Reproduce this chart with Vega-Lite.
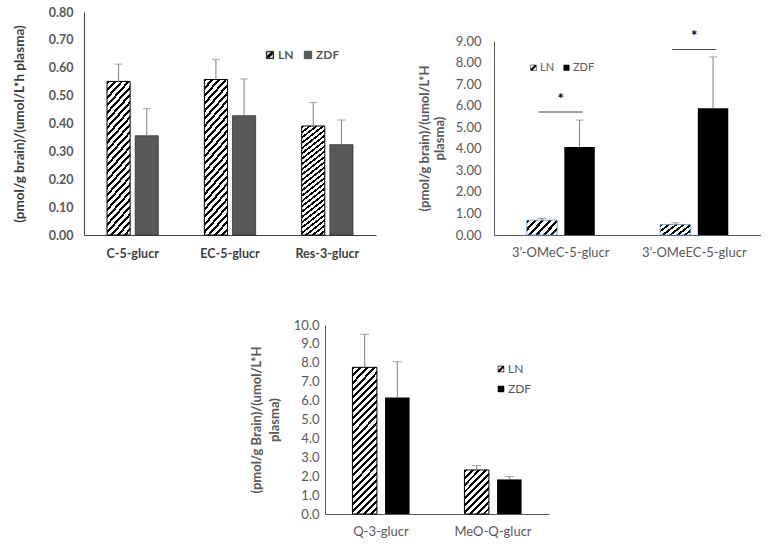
{
  "$schema": "https://vega.github.io/schema/vega-lite/v6.json",
  "padding": {"left": 12, "top": 6, "right": 0, "bottom": 0},
  "config": {
    "view": {"stroke": null},
    "font": "Lato",
    "axis": {"grid": false, "ticks": false, "domainColor": "#595959", "labelFont": "Lato", "titleFont": "Lato", "labelOverlap": false},
    "legend": {"labelFont": "Lato"}
  },
  "datasets": {
    "p1": [
      {"cat": "C-5-glucr", "group": "LN", "v": 0.551, "hi": 0.613},
      {"cat": "C-5-glucr", "group": "ZDF", "v": 0.356, "hi": 0.453},
      {"cat": "EC-5-glucr", "group": "LN", "v": 0.558, "hi": 0.629},
      {"cat": "EC-5-glucr", "group": "ZDF", "v": 0.428, "hi": 0.560},
      {"cat": "Res-3-glucr", "group": "LN", "v": 0.391, "hi": 0.475},
      {"cat": "Res-3-glucr", "group": "ZDF", "v": 0.324, "hi": 0.413}
    ],
    "p2": [
      {"cat": "3’-OMeC-5-glucr", "group": "LN", "v": 0.69, "hi": 0.77},
      {"cat": "3’-OMeC-5-glucr", "group": "ZDF", "v": 4.08, "hi": 5.33},
      {"cat": "3’-OMeEC-5-glucr", "group": "LN", "v": 0.49, "hi": 0.57},
      {"cat": "3’-OMeEC-5-glucr", "group": "ZDF", "v": 5.88, "hi": 8.26}
    ],
    "sig": [
      {"cat": "3’-OMeC-5-glucr", "line": 5.71, "star": 6.48},
      {"cat": "3’-OMeEC-5-glucr", "line": 8.61, "star": 9.42}
    ],
    "p3": [
      {"cat": "Q-3-glucr", "group": "LN", "v": 7.76, "hi": 9.51},
      {"cat": "Q-3-glucr", "group": "ZDF", "v": 6.17, "hi": 8.06},
      {"cat": "MeO-Q-glucr", "group": "LN", "v": 2.33, "hi": 2.56},
      {"cat": "MeO-Q-glucr", "group": "ZDF", "v": 1.83, "hi": 1.98}
    ]
  },
  "spacing": 59,
  "resolve": {"scale": {"color": "independent", "shape": "independent", "xOffset": "independent"}},
  "vconcat": [
    {
      "spacing": 42,
      "resolve": {"scale": {"color": "independent", "shape": "independent", "xOffset": "independent"}},
      "hconcat": [
        {
          "width": 292,
          "height": 223,
          "data": {"name": "p1"},
          "encoding": {
            "x": {"field": "cat", "type": "nominal", "sort": null, "title": null,
              "scale": {"paddingInner": 0.473, "paddingOuter": 0.2365},
              "axis": {"labelAngle": 0, "labelFontSize": 12.5, "labelFontWeight": "bold", "labelColor": "#404040", "labelPadding": 12, "domainColor": "#404040"}},
            "xOffset": {"field": "group", "type": "nominal", "scale": {"domain": ["LN", "ZDF"], "paddingInner": 0.18, "paddingOuter": 0}},
            "y": {"field": "v", "type": "quantitative", "title": "(pmol/g brain)/(umol/L*h plasma)",
              "scale": {"domain": [0, 0.8], "nice": false},
              "axis": {"values": [0, 0.1, 0.2, 0.3, 0.4, 0.5, 0.6, 0.7, 0.8], "format": ".2f", "labelFontSize": 12.5, "labelFontWeight": "bold", "labelColor": "#595959", "labelPadding": 11, "titleFontSize": 13.5, "titleFontWeight": "bold", "titleColor": "#404040", "titlePadding": 22, "domainColor": "#404040"}}
          },
          "layer": [
            {
              "transform": [{"filter": "datum.group === 'LN'"}],
              "mark": {"type": "bar", "stroke": "#000", "strokeWidth": 1,
                "fill": {"gradient": "linear", "x1": 0, "y1": 0, "x2": 0.189, "y2": 1.135, "stops": [{"offset":0,"color":"#000"},{"offset":0.0175,"color":"#000"},{"offset":0.0175,"color":"#fff"},{"offset":0.0417,"color":"#fff"},{"offset":0.0417,"color":"#000"},{"offset":0.0592,"color":"#000"},{"offset":0.0592,"color":"#fff"},{"offset":0.0833,"color":"#fff"},{"offset":0.0833,"color":"#000"},{"offset":0.1008,"color":"#000"},{"offset":0.1008,"color":"#fff"},{"offset":0.125,"color":"#fff"},{"offset":0.125,"color":"#000"},{"offset":0.1425,"color":"#000"},{"offset":0.1425,"color":"#fff"},{"offset":0.1667,"color":"#fff"},{"offset":0.1667,"color":"#000"},{"offset":0.1842,"color":"#000"},{"offset":0.1842,"color":"#fff"},{"offset":0.2083,"color":"#fff"},{"offset":0.2083,"color":"#000"},{"offset":0.2258,"color":"#000"},{"offset":0.2258,"color":"#fff"},{"offset":0.25,"color":"#fff"},{"offset":0.25,"color":"#000"},{"offset":0.2675,"color":"#000"},{"offset":0.2675,"color":"#fff"},{"offset":0.2917,"color":"#fff"},{"offset":0.2917,"color":"#000"},{"offset":0.3092,"color":"#000"},{"offset":0.3092,"color":"#fff"},{"offset":0.3333,"color":"#fff"},{"offset":0.3333,"color":"#000"},{"offset":0.3508,"color":"#000"},{"offset":0.3508,"color":"#fff"},{"offset":0.375,"color":"#fff"},{"offset":0.375,"color":"#000"},{"offset":0.3925,"color":"#000"},{"offset":0.3925,"color":"#fff"},{"offset":0.4167,"color":"#fff"},{"offset":0.4167,"color":"#000"},{"offset":0.4342,"color":"#000"},{"offset":0.4342,"color":"#fff"},{"offset":0.4583,"color":"#fff"},{"offset":0.4583,"color":"#000"},{"offset":0.4758,"color":"#000"},{"offset":0.4758,"color":"#fff"},{"offset":0.5,"color":"#fff"},{"offset":0.5,"color":"#000"},{"offset":0.5175,"color":"#000"},{"offset":0.5175,"color":"#fff"},{"offset":0.5417,"color":"#fff"},{"offset":0.5417,"color":"#000"},{"offset":0.5592,"color":"#000"},{"offset":0.5592,"color":"#fff"},{"offset":0.5833,"color":"#fff"},{"offset":0.5833,"color":"#000"},{"offset":0.6008,"color":"#000"},{"offset":0.6008,"color":"#fff"},{"offset":0.625,"color":"#fff"},{"offset":0.625,"color":"#000"},{"offset":0.6425,"color":"#000"},{"offset":0.6425,"color":"#fff"},{"offset":0.6667,"color":"#fff"},{"offset":0.6667,"color":"#000"},{"offset":0.6842,"color":"#000"},{"offset":0.6842,"color":"#fff"},{"offset":0.7083,"color":"#fff"},{"offset":0.7083,"color":"#000"},{"offset":0.7258,"color":"#000"},{"offset":0.7258,"color":"#fff"},{"offset":0.75,"color":"#fff"},{"offset":0.75,"color":"#000"},{"offset":0.7675,"color":"#000"},{"offset":0.7675,"color":"#fff"},{"offset":0.7917,"color":"#fff"},{"offset":0.7917,"color":"#000"},{"offset":0.8092,"color":"#000"},{"offset":0.8092,"color":"#fff"},{"offset":0.8333,"color":"#fff"},{"offset":0.8333,"color":"#000"},{"offset":0.8508,"color":"#000"},{"offset":0.8508,"color":"#fff"},{"offset":0.875,"color":"#fff"},{"offset":0.875,"color":"#000"},{"offset":0.8925,"color":"#000"},{"offset":0.8925,"color":"#fff"},{"offset":0.9167,"color":"#fff"},{"offset":0.9167,"color":"#000"},{"offset":0.9342,"color":"#000"},{"offset":0.9342,"color":"#fff"},{"offset":0.9583,"color":"#fff"},{"offset":0.9583,"color":"#000"},{"offset":0.9758,"color":"#000"},{"offset":0.9758,"color":"#fff"},{"offset":1,"color":"#fff"}]}}
            },
            {
              "transform": [{"filter": "datum.group === 'ZDF'"}],
              "mark": {"type": "bar", "fill": "#595959", "stroke": "#333333", "strokeWidth": 0.8}
            },
            {
              "mark": {"type": "rule", "color": "#808080", "strokeWidth": 1},
              "encoding": {"y2": {"field": "hi"}}
            },
            {
              "mark": {"type": "tick", "color": "#808080", "size": 8, "thickness": 1},
              "encoding": {"y": {"field": "hi", "type": "quantitative", "title": "(pmol/g brain)/(umol/L*h plasma)"}}
            },
            {
              "transform": [{"filter": "false"}],
              "mark": {"type": "point", "filled": true, "opacity": 1},
              "encoding": {
                "color": {"field": "group", "type": "nominal",
                  "scale": {"domain": ["LN", "ZDF"], "range": ["#000", "#595959"]},
                  "legend": {"title": null, "orient": "none", "legendX": 180, "legendY": 37, "direction": "horizontal", "symbolSize": 56, "symbolStrokeColor": "#333", "symbolStrokeWidth": 0.6, "labelFontSize": 12, "labelFontWeight": "bold", "labelColor": "#595959", "labelOffset": 2, "columnPadding": 8, "padding": 0}},
                "shape": {"field": "group", "type": "nominal",
                  "scale": {"domain": ["LN", "ZDF"], "range": ["M-1,-1H1V1H-1Z M-0.8,-0.8V0.8H0.8V-0.8Z M-0.8,0.3L0.3,-0.8L0.8,-0.8L0.8,-0.3L-0.3,0.8L-0.8,0.8Z", "square"]},
                  "legend": {"title": null, "orient": "none", "legendX": 180, "legendY": 37, "direction": "horizontal", "symbolSize": 56, "symbolStrokeColor": "#333", "symbolStrokeWidth": 0.6, "labelFontSize": 12, "labelFontWeight": "bold", "labelColor": "#595959", "labelOffset": 2, "columnPadding": 8, "padding": 0}}
              }
            }
          ]
        },
        {
          "spacing": 15,
          "resolve": {"scale": {"color": "independent", "shape": "independent", "xOffset": "independent"}},
          "vconcat": [
            {
              "width": 10,
              "height": 1,
              "data": {"values": []},
              "mark": {"type": "point"},
              "encoding": {}
            },
            {
              "width": 267,
              "height": 194,
              "layer": [
                {
                  "data": {"name": "p2"},
                  "transform": [{"filter": "datum.group === 'LN'"}],
                  "mark": {"type": "bar", "stroke": "#5b9bd5", "strokeWidth": 0.8,
                    "fill": {"gradient": "linear", "x1": 0, "y1": 0, "x2": 1.206, "y2": 0.543, "stops": [{"offset":0,"color":"#000"},{"offset":0.07,"color":"#000"},{"offset":0.07,"color":"#fff"},{"offset":0.1667,"color":"#fff"},{"offset":0.1667,"color":"#000"},{"offset":0.2367,"color":"#000"},{"offset":0.2367,"color":"#fff"},{"offset":0.3333,"color":"#fff"},{"offset":0.3333,"color":"#000"},{"offset":0.4033,"color":"#000"},{"offset":0.4033,"color":"#fff"},{"offset":0.5,"color":"#fff"},{"offset":0.5,"color":"#000"},{"offset":0.57,"color":"#000"},{"offset":0.57,"color":"#fff"},{"offset":0.6667,"color":"#fff"},{"offset":0.6667,"color":"#000"},{"offset":0.7367,"color":"#000"},{"offset":0.7367,"color":"#fff"},{"offset":0.8333,"color":"#fff"},{"offset":0.8333,"color":"#000"},{"offset":0.9033,"color":"#000"},{"offset":0.9033,"color":"#fff"},{"offset":1,"color":"#fff"}]}},
                  "encoding": {
                    "x": {"field": "cat", "type": "nominal", "sort": null, "title": null,
                      "scale": {"paddingInner": 0.49, "paddingOuter": 0.245},
                      "axis": {"labelAngle": 0, "labelFontSize": 13, "labelColor": "#595959", "labelPadding": 11}},
                    "xOffset": {"field": "group", "type": "nominal", "scale": {"domain": ["LN", "ZDF"], "paddingInner": 0.19, "paddingOuter": 0}},
                    "y": {"field": "v", "type": "quantitative", "title": ["(pmol/g brain)/(umol/L*H", "plasma)"],
                      "scale": {"domain": [0, 9], "nice": false},
                      "axis": {"values": [0, 1, 2, 3, 4, 5, 6, 7, 8, 9], "format": ".2f", "labelFontSize": 13, "labelColor": "#595959", "labelPadding": 13, "titleFontSize": 13, "titleFontWeight": "bold", "titleColor": "#595959", "titlePadding": 9, "titleLineHeight": 15}}
                  }
                },
                {
                  "data": {"name": "p2"},
                  "transform": [{"filter": "datum.group === 'ZDF'"}],
                  "mark": {"type": "bar", "fill": "#000"},
                  "encoding": {
                    "x": {"field": "cat", "type": "nominal", "sort": null, "title": null},
                    "xOffset": {"field": "group", "type": "nominal"},
                    "y": {"field": "v", "type": "quantitative", "title": ["(pmol/g brain)/(umol/L*H", "plasma)"],
                      "axis": {"values": [0, 1, 2, 3, 4, 5, 6, 7, 8, 9], "format": ".2f", "labelFontSize": 13, "labelColor": "#595959", "labelPadding": 13, "titleFontSize": 13, "titleFontWeight": "bold", "titleColor": "#595959", "titlePadding": 9, "titleLineHeight": 15}}
                  }
                },
                {
                  "data": {"name": "p2"},
                  "mark": {"type": "rule", "color": "#808080", "strokeWidth": 1},
                  "encoding": {
                    "x": {"field": "cat", "type": "nominal", "sort": null, "title": null},
                    "xOffset": {"field": "group", "type": "nominal"},
                    "y": {"field": "v", "type": "quantitative", "title": ["(pmol/g brain)/(umol/L*H", "plasma)"],
                      "axis": {"values": [0, 1, 2, 3, 4, 5, 6, 7, 8, 9], "format": ".2f", "labelFontSize": 13, "labelColor": "#595959", "labelPadding": 13, "titleFontSize": 13, "titleFontWeight": "bold", "titleColor": "#595959", "titlePadding": 9, "titleLineHeight": 15}},
                    "y2": {"field": "hi"}
                  }
                },
                {
                  "data": {"name": "p2"},
                  "mark": {"type": "tick", "color": "#808080", "size": 8, "thickness": 1},
                  "encoding": {
                    "x": {"field": "cat", "type": "nominal", "sort": null, "title": null},
                    "xOffset": {"field": "group", "type": "nominal"},
                    "y": {"field": "hi", "type": "quantitative", "title": ["(pmol/g brain)/(umol/L*H", "plasma)"],
                      "axis": {"values": [0, 1, 2, 3, 4, 5, 6, 7, 8, 9], "format": ".2f", "labelFontSize": 13, "labelColor": "#595959", "labelPadding": 13, "titleFontSize": 13, "titleFontWeight": "bold", "titleColor": "#595959", "titlePadding": 9, "titleLineHeight": 15}}
                  }
                },
                {
                  "data": {"name": "sig"},
                  "mark": {"type": "tick", "color": "#000", "size": 44, "thickness": 1},
                  "encoding": {
                    "x": {"field": "cat", "type": "nominal", "sort": null, "title": null},
                    "y": {"field": "line", "type": "quantitative", "title": ["(pmol/g brain)/(umol/L*H", "plasma)"],
                      "axis": {"values": [0, 1, 2, 3, 4, 5, 6, 7, 8, 9], "format": ".2f", "labelFontSize": 13, "labelColor": "#595959", "labelPadding": 13, "titleFontSize": 13, "titleFontWeight": "bold", "titleColor": "#595959", "titlePadding": 9, "titleLineHeight": 15}}
                  }
                },
                {
                  "data": {"name": "sig"},
                  "mark": {"type": "text", "text": "*", "fontSize": 15, "fontWeight": "bold", "fill": "#000", "color": "#000", "baseline": "middle", "dy": 4},
                  "encoding": {
                    "x": {"field": "cat", "type": "nominal", "sort": null, "title": null},
                    "y": {"field": "star", "type": "quantitative", "title": ["(pmol/g brain)/(umol/L*H", "plasma)"],
                      "axis": {"values": [0, 1, 2, 3, 4, 5, 6, 7, 8, 9], "format": ".2f", "labelFontSize": 13, "labelColor": "#595959", "labelPadding": 13, "titleFontSize": 13, "titleFontWeight": "bold", "titleColor": "#595959", "titlePadding": 9, "titleLineHeight": 15}}
                  }
                },
                {
                  "data": {"name": "p2"},
                  "transform": [{"filter": "false"}],
                  "mark": {"type": "point", "filled": true, "opacity": 1},
                  "encoding": {
                    "color": {"field": "group", "type": "nominal",
                      "scale": {"domain": ["LN", "ZDF"], "range": ["#000", "#000"]},
                      "legend": {"title": null, "orient": "none", "legendX": 34, "legendY": 21, "direction": "horizontal", "symbolSize": 36, "symbolStrokeColor": "#000", "symbolStrokeWidth": 0, "labelFontSize": 11, "labelColor": "#595959", "labelOffset": 1, "columnPadding": 6, "padding": 0}},
                    "shape": {"field": "group", "type": "nominal",
                      "scale": {"domain": ["LN", "ZDF"], "range": ["M-1,-1H1V1H-1Z M-0.8,-0.8V0.8H0.8V-0.8Z M-0.8,0.3L0.3,-0.8L0.8,-0.8L0.8,-0.3L-0.3,0.8L-0.8,0.8Z", "square"]},
                      "legend": {"title": null, "orient": "none", "legendX": 34, "legendY": 21, "direction": "horizontal", "symbolSize": 36, "symbolStrokeColor": "#000", "symbolStrokeWidth": 0, "labelFontSize": 11, "labelColor": "#595959", "labelOffset": 1, "columnPadding": 6, "padding": 0}}
                  }
                }
              ]
            }
          ]
        }
      ]
    },
    {
      "spacing": 0,
      "resolve": {"scale": {"color": "independent", "shape": "independent", "xOffset": "independent"}},
      "hconcat": [
        {
          "width": 166,
          "height": 10,
          "data": {"values": []},
          "mark": {"type": "point"},
          "encoding": {}
        },
        {
          "width": 224,
          "height": 189,
          "data": {"name": "p3"},
          "encoding": {
            "x": {"field": "cat", "type": "nominal", "sort": null, "title": null,
              "scale": {"paddingInner": 0.49, "paddingOuter": 0.245},
              "axis": {"labelAngle": 0, "labelFontSize": 13, "labelColor": "#595959", "labelPadding": 11}},
            "xOffset": {"field": "group", "type": "nominal", "scale": {"domain": ["LN", "ZDF"], "paddingInner": 0.25, "paddingOuter": 0}},
            "y": {"field": "v", "type": "quantitative", "title": ["(pmol/g Brain)/(umol/L*H", "plasma)"],
              "scale": {"domain": [0, 10], "nice": false},
              "axis": {"values": [0, 1, 2, 3, 4, 5, 6, 7, 8, 9, 10], "format": ".1f", "labelFontSize": 13, "labelColor": "#595959", "labelPadding": 6, "titleFontSize": 13, "titleFontWeight": "bold", "titleColor": "#595959", "titlePadding": 12, "titleLineHeight": 18}}
          },
          "layer": [
            {
              "transform": [{"filter": "datum.group === 'LN' && datum.cat === 'Q-3-glucr'"}],
              "mark": {"type": "bar", "stroke": "#000", "strokeWidth": 1,
                "fill": {"gradient": "linear", "x1": 0, "y1": 0, "x2": 0.193, "y2": 1.137, "stops": [{"offset":0,"color":"#000"},{"offset":0.0175,"color":"#000"},{"offset":0.0175,"color":"#fff"},{"offset":0.0417,"color":"#fff"},{"offset":0.0417,"color":"#000"},{"offset":0.0592,"color":"#000"},{"offset":0.0592,"color":"#fff"},{"offset":0.0833,"color":"#fff"},{"offset":0.0833,"color":"#000"},{"offset":0.1008,"color":"#000"},{"offset":0.1008,"color":"#fff"},{"offset":0.125,"color":"#fff"},{"offset":0.125,"color":"#000"},{"offset":0.1425,"color":"#000"},{"offset":0.1425,"color":"#fff"},{"offset":0.1667,"color":"#fff"},{"offset":0.1667,"color":"#000"},{"offset":0.1842,"color":"#000"},{"offset":0.1842,"color":"#fff"},{"offset":0.2083,"color":"#fff"},{"offset":0.2083,"color":"#000"},{"offset":0.2258,"color":"#000"},{"offset":0.2258,"color":"#fff"},{"offset":0.25,"color":"#fff"},{"offset":0.25,"color":"#000"},{"offset":0.2675,"color":"#000"},{"offset":0.2675,"color":"#fff"},{"offset":0.2917,"color":"#fff"},{"offset":0.2917,"color":"#000"},{"offset":0.3092,"color":"#000"},{"offset":0.3092,"color":"#fff"},{"offset":0.3333,"color":"#fff"},{"offset":0.3333,"color":"#000"},{"offset":0.3508,"color":"#000"},{"offset":0.3508,"color":"#fff"},{"offset":0.375,"color":"#fff"},{"offset":0.375,"color":"#000"},{"offset":0.3925,"color":"#000"},{"offset":0.3925,"color":"#fff"},{"offset":0.4167,"color":"#fff"},{"offset":0.4167,"color":"#000"},{"offset":0.4342,"color":"#000"},{"offset":0.4342,"color":"#fff"},{"offset":0.4583,"color":"#fff"},{"offset":0.4583,"color":"#000"},{"offset":0.4758,"color":"#000"},{"offset":0.4758,"color":"#fff"},{"offset":0.5,"color":"#fff"},{"offset":0.5,"color":"#000"},{"offset":0.5175,"color":"#000"},{"offset":0.5175,"color":"#fff"},{"offset":0.5417,"color":"#fff"},{"offset":0.5417,"color":"#000"},{"offset":0.5592,"color":"#000"},{"offset":0.5592,"color":"#fff"},{"offset":0.5833,"color":"#fff"},{"offset":0.5833,"color":"#000"},{"offset":0.6008,"color":"#000"},{"offset":0.6008,"color":"#fff"},{"offset":0.625,"color":"#fff"},{"offset":0.625,"color":"#000"},{"offset":0.6425,"color":"#000"},{"offset":0.6425,"color":"#fff"},{"offset":0.6667,"color":"#fff"},{"offset":0.6667,"color":"#000"},{"offset":0.6842,"color":"#000"},{"offset":0.6842,"color":"#fff"},{"offset":0.7083,"color":"#fff"},{"offset":0.7083,"color":"#000"},{"offset":0.7258,"color":"#000"},{"offset":0.7258,"color":"#fff"},{"offset":0.75,"color":"#fff"},{"offset":0.75,"color":"#000"},{"offset":0.7675,"color":"#000"},{"offset":0.7675,"color":"#fff"},{"offset":0.7917,"color":"#fff"},{"offset":0.7917,"color":"#000"},{"offset":0.8092,"color":"#000"},{"offset":0.8092,"color":"#fff"},{"offset":0.8333,"color":"#fff"},{"offset":0.8333,"color":"#000"},{"offset":0.8508,"color":"#000"},{"offset":0.8508,"color":"#fff"},{"offset":0.875,"color":"#fff"},{"offset":0.875,"color":"#000"},{"offset":0.8925,"color":"#000"},{"offset":0.8925,"color":"#fff"},{"offset":0.9167,"color":"#fff"},{"offset":0.9167,"color":"#000"},{"offset":0.9342,"color":"#000"},{"offset":0.9342,"color":"#fff"},{"offset":0.9583,"color":"#fff"},{"offset":0.9583,"color":"#000"},{"offset":0.9758,"color":"#000"},{"offset":0.9758,"color":"#fff"},{"offset":1,"color":"#fff"}]}}
            },
            {
              "transform": [{"filter": "datum.group === 'LN' && datum.cat === 'MeO-Q-glucr'"}],
              "mark": {"type": "bar", "stroke": "#000", "strokeWidth": 1,
                "fill": {"gradient": "linear", "x1": 0, "y1": 0, "x2": 0.673, "y2": 1.185, "stops": [{"offset":0,"color":"#000"},{"offset":0.042,"color":"#000"},{"offset":0.042,"color":"#fff"},{"offset":0.1,"color":"#fff"},{"offset":0.1,"color":"#000"},{"offset":0.142,"color":"#000"},{"offset":0.142,"color":"#fff"},{"offset":0.2,"color":"#fff"},{"offset":0.2,"color":"#000"},{"offset":0.242,"color":"#000"},{"offset":0.242,"color":"#fff"},{"offset":0.3,"color":"#fff"},{"offset":0.3,"color":"#000"},{"offset":0.342,"color":"#000"},{"offset":0.342,"color":"#fff"},{"offset":0.4,"color":"#fff"},{"offset":0.4,"color":"#000"},{"offset":0.442,"color":"#000"},{"offset":0.442,"color":"#fff"},{"offset":0.5,"color":"#fff"},{"offset":0.5,"color":"#000"},{"offset":0.542,"color":"#000"},{"offset":0.542,"color":"#fff"},{"offset":0.6,"color":"#fff"},{"offset":0.6,"color":"#000"},{"offset":0.642,"color":"#000"},{"offset":0.642,"color":"#fff"},{"offset":0.7,"color":"#fff"},{"offset":0.7,"color":"#000"},{"offset":0.742,"color":"#000"},{"offset":0.742,"color":"#fff"},{"offset":0.8,"color":"#fff"},{"offset":0.8,"color":"#000"},{"offset":0.842,"color":"#000"},{"offset":0.842,"color":"#fff"},{"offset":0.9,"color":"#fff"},{"offset":0.9,"color":"#000"},{"offset":0.942,"color":"#000"},{"offset":0.942,"color":"#fff"},{"offset":1,"color":"#fff"}]}}
            },
            {
              "transform": [{"filter": "datum.group === 'ZDF'"}],
              "mark": {"type": "bar", "fill": "#000"}
            },
            {
              "mark": {"type": "rule", "color": "#808080", "strokeWidth": 1},
              "encoding": {"y2": {"field": "hi"}}
            },
            {
              "mark": {"type": "tick", "color": "#808080", "size": 9, "thickness": 1},
              "encoding": {"y": {"field": "hi", "type": "quantitative", "title": ["(pmol/g Brain)/(umol/L*H", "plasma)"]}}
            },
            {
              "transform": [{"filter": "false"}],
              "mark": {"type": "point", "filled": true, "opacity": 1},
              "encoding": {
                "color": {"field": "group", "type": "nominal",
                  "scale": {"domain": ["LN", "ZDF"], "range": ["#000", "#000"]},
                  "legend": {"title": null, "orient": "none", "legendX": 170, "legendY": 38, "direction": "vertical", "symbolSize": 42, "symbolStrokeColor": "#000", "symbolStrokeWidth": 0, "labelFontSize": 12, "labelColor": "#595959", "labelOffset": 1, "rowPadding": 8, "padding": 0}},
                "shape": {"field": "group", "type": "nominal",
                  "scale": {"domain": ["LN", "ZDF"], "range": ["M-1,-1H1V1H-1Z M-0.8,-0.8V0.8H0.8V-0.8Z M-0.8,0.3L0.3,-0.8L0.8,-0.8L0.8,-0.3L-0.3,0.8L-0.8,0.8Z", "square"]},
                  "legend": {"title": null, "orient": "none", "legendX": 170, "legendY": 38, "direction": "vertical", "symbolSize": 42, "symbolStrokeColor": "#000", "symbolStrokeWidth": 0, "labelFontSize": 12, "labelColor": "#595959", "labelOffset": 1, "rowPadding": 8, "padding": 0}}
              }
            }
          ]
        }
      ]
    }
  ]
}
